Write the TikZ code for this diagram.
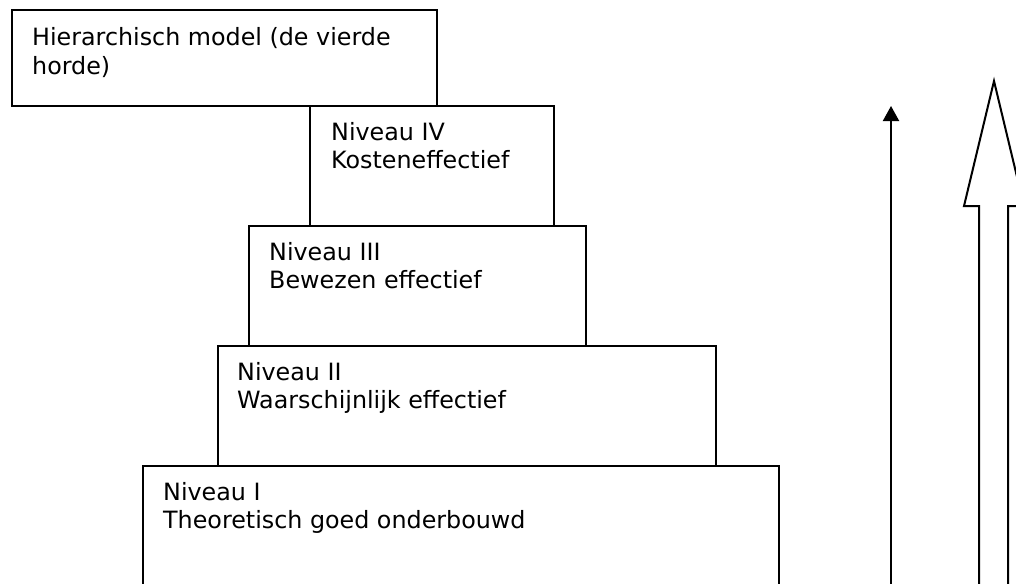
\documentclass[tikz,border=0pt]{standalone}
\usepackage{fontspec}
\setmainfont{DejaVu Sans}
\usetikzlibrary{arrows.meta}
\tikzset{
  box/.style={draw=black, line width=1.9pt, fill=white, inner sep=0pt, anchor=north west},
  lbl/.style={anchor=base west, inner sep=0pt, font=\fontsize{23.8}{28.5}\selectfont},
  thinarrow/.style={line width=2pt, -{Triangle[length=15pt,width=16pt]}},
  hollow/.style={draw=black, line width=2pt, fill=white, line join=miter}
}
\newcommand{\twolines}[2]{\vtop{\hbox{#1}\hbox{#2}}}
\begin{document}
\begin{tikzpicture}[x=1pt,y=-1pt]
\useasboundingbox (0,0) rectangle (1016,583);
% boxes (bottom first so upper boxes overlap)
\node[box, minimum width=636pt, minimum height=130pt] (b1) at (142,465) {};
\node[box, minimum width=498pt, minimum height=120pt] (b2) at (217,345) {};
\node[box, minimum width=337pt, minimum height=120pt] (b3) at (248,225) {};
\node[box, minimum width=244pt, minimum height=120pt] (b4) at (309,105) {};
\node[box, minimum width=425pt, minimum height=96pt] (b0) at (11,9) {};
% texts
\node[lbl] (t0) at ([shift={(21,37)}]b0.north west) {\twolines{Hierarchisch model (de vierde}{horde)}};
\node[lbl] (t4) at ([shift={(22,35)}]b4.north west) {\twolines{Niveau IV}{Kosteneffectief}};
\node[lbl] (t3) at ([shift={(21,35)}]b3.north west) {\twolines{Niveau III}{Bewezen effectief}};
\node[lbl] (t2) at ([shift={(20,35)}]b2.north west) {\twolines{Niveau II}{Waarschijnlijk effectief}};
\node[lbl] (t1) at ([shift={(21,35)}]b1.north west) {\twolines{Niveau I}{Theoretisch goed onderbouwd}};
% thin arrow
\coordinate (as) at (891,590);
\coordinate (ae) at (891,106);
\draw[thinarrow] (as) -- (ae);
% hollow arrow
\draw[hollow] (979,590) -- (979,206) -- (964,206) -- (994,81) -- (1024,206) -- (1008,206) -- (1008,590);
\end{tikzpicture}
\end{document}
